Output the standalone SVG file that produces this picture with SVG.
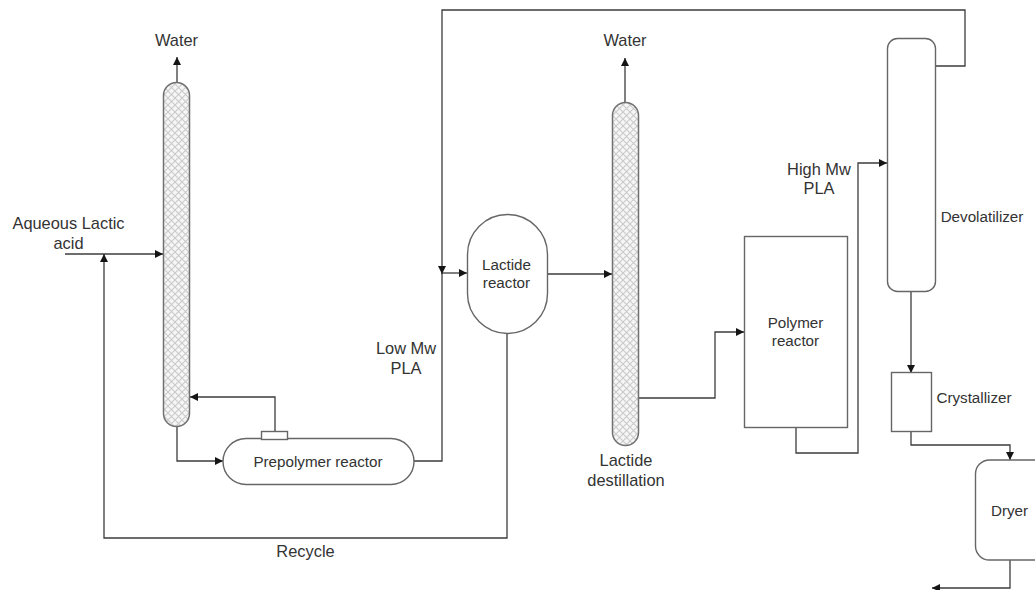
<svg xmlns="http://www.w3.org/2000/svg" width="1035" height="590" viewBox="0 0 1035 590">
<style>
.n{fill:#fff;stroke:#666;stroke-width:1.4}
.h{fill:url(#hatch);stroke:#707070;stroke-width:1.5}
.c{fill:none;stroke:#3c3c3c;stroke-width:1.3}
.e{marker-end:url(#arr)}
text{font-family:"Liberation Sans",Arial,sans-serif;font-size:16.4px;fill:#333;text-anchor:middle}
.i{font-size:15.2px}
</style>
<defs>
<pattern id="hatch" width="7" height="7" patternUnits="userSpaceOnUse">
<rect width="7" height="7" fill="#f6f6f6"/>
<path d="M0 0L7 7M7 0L0 7" stroke="#cacaca" stroke-width="1.1"/>
</pattern>
<marker id="arr" markerUnits="userSpaceOnUse" markerWidth="9" markerHeight="9" refX="8" refY="4.500" orient="auto">
<path d="M0 0.500L8 4.500L0 8.500z" fill="#151515"/>
</marker>
</defs>
<rect width="1035" height="590" fill="#fff"/>
<g id="connectors">
<path class="c e" d="M177 82V57"/>
<path class="c e" d="M65 254H163"/>
<path class="c e" d="M507 333V538H104V254"/>
<path class="c e" d="M275 431V397H190"/>
<path class="c e" d="M177 426V461H223"/>
<path class="c" d="M414 461H442V273"/>
<path class="c e" d="M442 273H467"/>
<path class="c e" d="M936 66H965V10H442V274"/>
<path class="c e" d="M547 274H612"/>
<path class="c e" d="M625 102V58"/>
<path class="c e" d="M639 398H715V332H744"/>
<path class="c e" d="M796 428V453H858V163H887"/>
<path class="c e" d="M911 292V373"/>
<path class="c e" d="M911 432V445H1010V460"/>
<path class="c e" d="M1010 560V588H932"/>
</g>
<g id="column1"><rect class="h" x="163.500" y="82.500" width="26" height="344" rx="13"/></g>
<g id="prepolymer"><rect class="n" x="223" y="438.500" width="191" height="46" rx="23"/><rect class="n" x="261.500" y="431.500" width="26" height="8"/><text class="i" x="318" y="467">Prepolymer reactor</text></g>
<g id="lactide-reactor"><rect class="n" x="467.500" y="214.500" width="80" height="119" rx="40"/><text class="i" x="506.500" y="270">Lactide</text><text class="i" x="506.500" y="288">reactor</text></g>
<g id="column2"><rect class="h" x="612.500" y="102.500" width="26" height="343" rx="13"/></g>
<g id="polymer-reactor"><rect class="n" x="744.500" y="236.500" width="103" height="191"/><text class="i" x="795.500" y="328">Polymer</text><text class="i" x="795.500" y="346">reactor</text></g>
<g id="devolatilizer"><rect class="n" x="887.500" y="38.500" width="48" height="253" rx="10"/></g>
<g id="crystallizer"><rect class="n" x="891.500" y="372.500" width="40" height="59"/></g>
<g id="dryer"><rect class="n" x="975.500" y="460" width="80" height="100" rx="14"/><text class="i" x="1009.500" y="516">Dryer</text></g>
<g id="labels">
<text x="176.500" y="46">Water</text>
<text x="625" y="46">Water</text>
<text x="68.500" y="229">Aqueous Lactic</text>
<text x="68.500" y="249">acid</text>
<text x="406" y="354">Low Mw</text>
<text x="406" y="374">PLA</text>
<text x="626" y="466">Lactide</text>
<text x="626" y="486">destillation</text>
<text x="819" y="175">High Mw</text>
<text x="819" y="194">PLA</text>
<text class="i" x="982" y="222">Devolatilizer</text>
<text class="i" x="974" y="403">Crystallizer</text>
<text x="305.500" y="557">Recycle</text>
</g>
</svg>
